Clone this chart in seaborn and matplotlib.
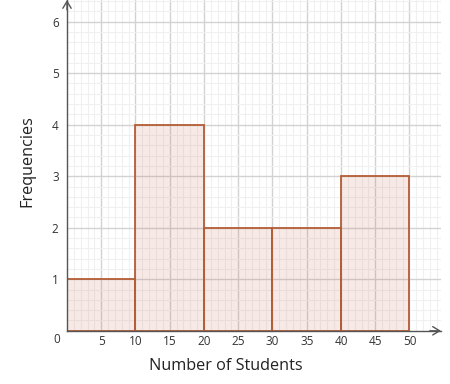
import matplotlib
matplotlib.use("Agg")
import matplotlib.pyplot as plt
import seaborn as sns
import numpy as np
from matplotlib.ticker import MultipleLocator

# Data
bin_edges = [0, 10, 20, 30, 40, 50]
bin_mids = [5, 15, 25, 35, 45]
frequencies = [1, 4, 2, 2, 3]
x_ticks = [5, 10, 15, 20, 25, 30, 35, 40, 45, 50]
y_ticks = [1, 2, 3, 4, 5, 6]
x_label = "Number of Students"
y_label = "Frequencies"

sns.set_style("white")
plt.rcParams['font.family'] = ['Open Sans', 'DejaVu Sans']

W, H = 450, 384
fig = plt.figure(figsize=(W / 100, H / 100), dpi=100)
x0, x1 = 67, 441
y0, y1 = 330.8, 0
ax = fig.add_axes([x0 / W, 1 - y0 / H, (x1 - x0) / W, (y0 - y1) / H])

sns.histplot(x=bin_mids, weights=frequencies, bins=bin_edges, ax=ax,
             stat="count", element="bars",
             facecolor=(0.78, 0.43, 0.31, 0.14), edgecolor="#b45d36",
             linewidth=1.3, zorder=3)

ax.set_xlim(0, 54.6)
ax.set_ylim(0, 6.42)

ax.xaxis.set_major_locator(MultipleLocator(5))
ax.xaxis.set_minor_locator(MultipleLocator(1))
ax.yaxis.set_major_locator(MultipleLocator(1))
ax.yaxis.set_minor_locator(MultipleLocator(0.2))
ax.grid(True, which="major", color="#d2d2d2", linewidth=1.0, zorder=0)
ax.grid(True, which="minor", color="#f0f0f0", linewidth=0.8, zorder=0)
ax.set_axisbelow(True)

ax.set_xticks(x_ticks)
ax.set_yticks(y_ticks)
ax.set_xticklabels([str(v) for v in x_ticks])
ax.set_yticklabels([str(v) for v in y_ticks])
ax.tick_params(axis="both", which="both", length=0, labelsize=8.5,
               labelcolor="#333333")
ax.tick_params(axis="x", pad=3)
ax.tick_params(axis="y", pad=6)

for s in ["top", "right"]:
    ax.spines[s].set_visible(False)
for s in ["left", "bottom"]:
    ax.spines[s].set_color("#555555")
    ax.spines[s].set_linewidth(1.0)
    ax.spines[s].set_zorder(4)

# axis arrows
ax.annotate("", xy=(1.0, 0), xytext=(0.97, 0), xycoords="axes fraction",
            arrowprops=dict(arrowstyle="->,head_length=0.5,head_width=0.3",
                            color="#555555", lw=1.0,
                            shrinkA=0, shrinkB=0), annotation_clip=False)
ax.annotate("", xy=(0, 1.0), xytext=(0, 0.97), xycoords="axes fraction",
            arrowprops=dict(arrowstyle="->,head_length=0.5,head_width=0.3",
                            color="#555555", lw=1.0,
                            shrinkA=0, shrinkB=0), annotation_clip=False)

ax.text(-10 / (x1 - x0), -9 / (y0 - y1), "0", transform=ax.transAxes,
        ha="center", va="center", fontsize=8.5, color="#333333")

ax.set_xlabel(x_label, fontsize=11.7, color="#222222")
ax.set_ylabel(y_label, fontsize=11.7, color="#222222")
ax.xaxis.set_label_coords((226 - x0) / (x1 - x0), -(366 - y0) / (y0 - y1))
ax.yaxis.set_label_coords((27 - x0) / (x1 - x0), (y0 - 161) / (y0 - y1))
ax.xaxis.label.set_va("center")
ax.yaxis.label.set_va("center")

fig.savefig("out.png", dpi=100)
